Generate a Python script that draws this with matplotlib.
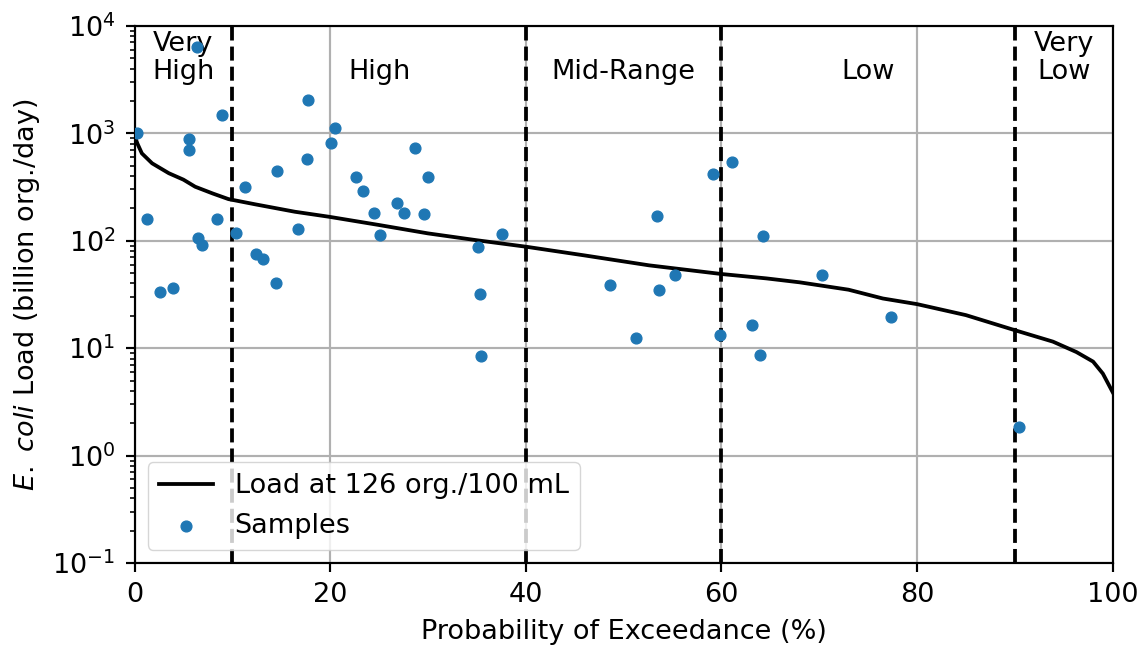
import numpy as np
import matplotlib
matplotlib.use("Agg")
import matplotlib.pyplot as plt

# load duration curve
curve_x = [0, 0.3, 0.75, 1.8, 3.5, 5, 6.2, 8, 9.6, 12.35, 16.4, 19.9, 25, 30, 35, 40,
           46, 52.6, 60, 64.6, 68, 73, 76.5, 80, 85, 90, 93.9, 96.3, 98, 99, 100]
curve_y = [950, 800, 650, 525, 425, 370, 318, 275, 244, 218, 186, 167, 140, 117, 101, 88,
           73, 59, 49, 44.6, 41, 35, 29, 25.7, 20.3, 14.7, 11.5, 9.2, 7.5, 5.8, 3.9]

# samples
samp_x = [0.3, 1.3, 2.6, 3.9, 5.6, 5.6, 6.4, 6.5, 6.9, 8.4, 8.9, 10.4, 11.3, 12.4, 13.1,
          14.5, 14.6, 16.7, 17.6, 17.7, 20.1, 20.5, 22.6, 23.4, 24.5, 25.1, 26.8, 27.6,
          28.7, 29.6, 30.0, 35.1, 35.3, 35.4, 37.6, 48.6, 51.3, 53.4, 53.6, 55.3, 59.1,
          59.9, 61.1, 63.1, 63.9, 64.3, 70.3, 77.3, 90.4]
samp_y = [1000, 160, 33, 36, 885, 695, 6300, 105, 91, 160, 1490, 117, 316, 76, 68,
          40, 449, 128, 580, 2030, 812, 1120, 392, 292, 180, 113, 224, 180,
          735, 176, 392, 88, 32, 8.5, 116, 39, 12.5, 169, 35, 47.5, 418,
          13.3, 537, 16.4, 8.6, 111, 48, 19.6, 1.85]

# flow regimes
bounds = [10, 40, 60, 90]
zone_x = [5, 25, 50, 75, 95]
zone_labels = ["Very\nHigh", "High", "Mid-Range", "Low", "Very\nLow"]

k = 1.95  # everything scaled like a 10pt figure rendered large
plt.rcParams['font.size'] = 10 * k
plt.rcParams['axes.linewidth'] = 0.8 * k

fig = plt.figure(figsize=(11.4, 6.45), dpi=100)
ax = fig.add_axes([0.118, 0.127, 0.858, 0.833])

ax.plot(curve_x, curve_y, color='black', lw=1.4 * k, label='Load at 126 org./100 mL', zorder=3)
ax.scatter(samp_x, samp_y, s=60, color='#1f77b4', label='Samples', zorder=4)

for b in bounds:
    ax.axvline(b, color='black', ls='--', lw=1.4 * k, zorder=2)

for zx, zl in zip(zone_x, zone_labels):
    yc = 0.94 if '\n' in zl else 0.914
    ax.text(zx, yc, zl, transform=ax.get_xaxis_transform(), ha='center', va='center',
            linespacing=1.1)

ax.set_yscale('log')
ax.set_xlim(0, 100)
ax.set_ylim(0.1, 1e4)
ax.grid(True, which='major', color='#b0b0b0', lw=0.8 * k)
ax.set_axisbelow(True)
ax.tick_params(which='major', length=3.5 * k, width=0.8 * k, pad=3.5 * k)
ax.tick_params(which='minor', length=2 * k, width=0.6 * k)
ax.set_xlabel('Probability of Exceedance (%)', labelpad=4 * k)
ax.set_ylabel(r'$E.\ coli$ Load (billion org./day)', labelpad=4 * k)
ax.legend(loc='lower left', scatterpoints=1)

fig.savefig('out.png', dpi=100)
